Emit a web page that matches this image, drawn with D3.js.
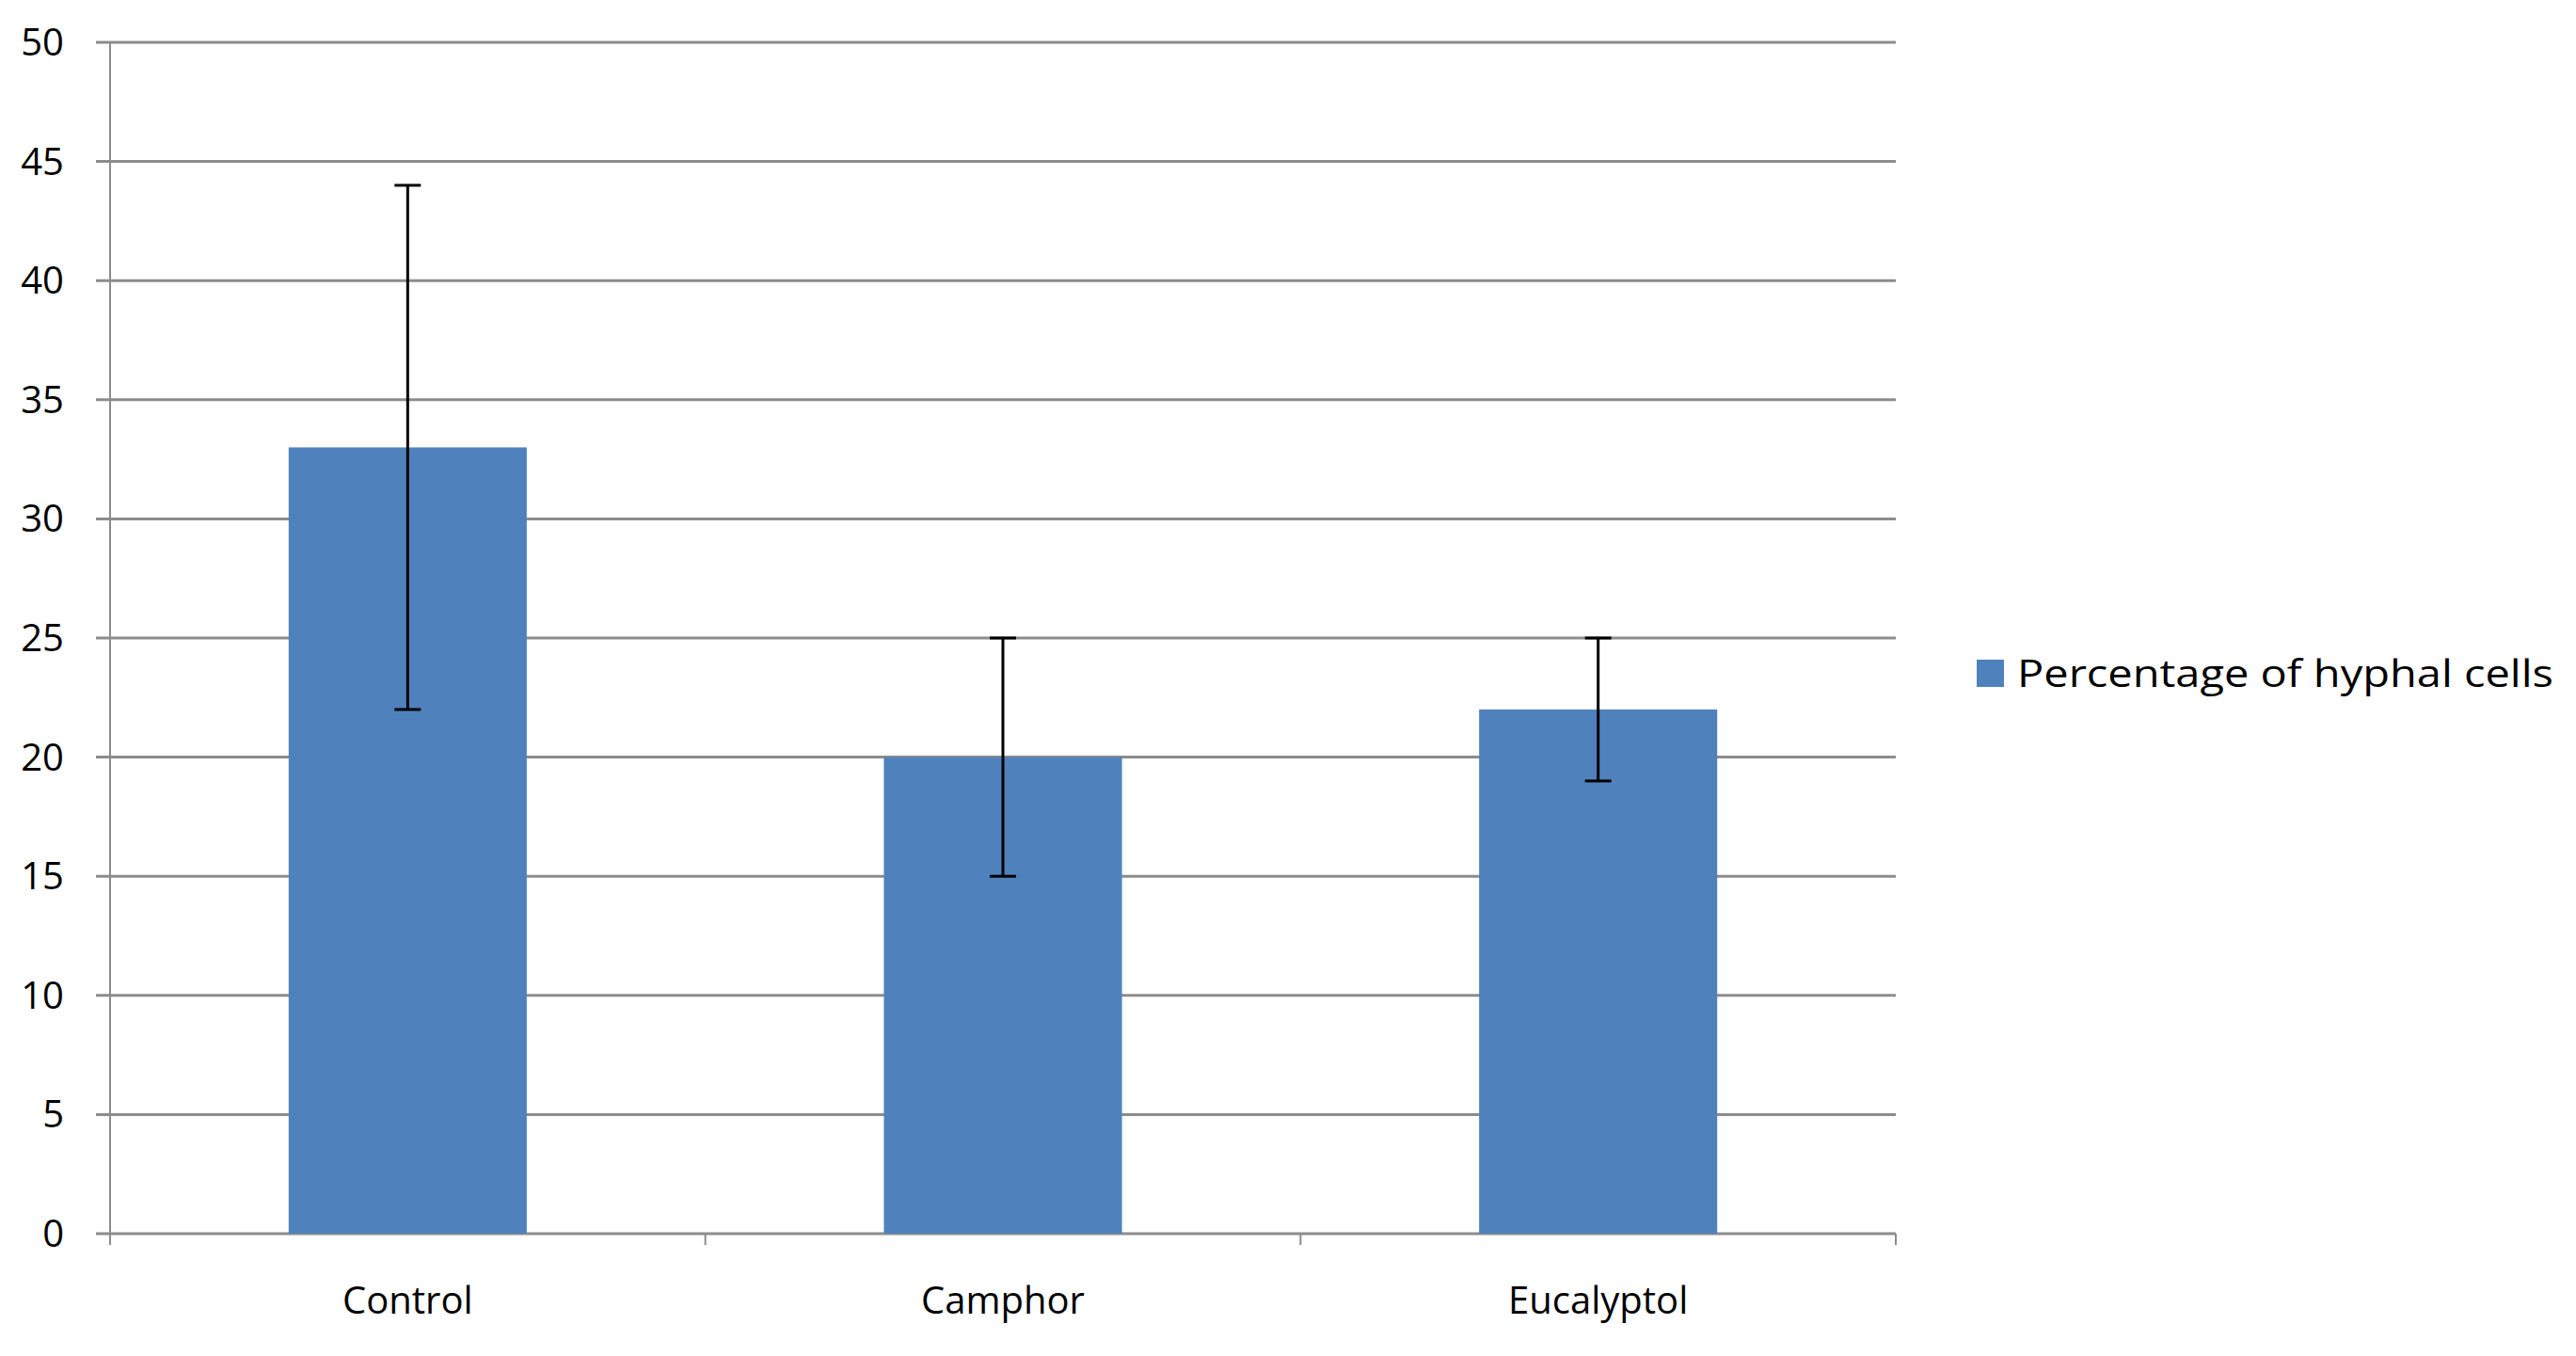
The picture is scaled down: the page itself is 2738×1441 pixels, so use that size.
<!DOCTYPE html>
<html>
<head>
<meta charset="utf-8">
<script src="https://cdn.jsdelivr.net/npm/d3@7"></script>
<style>
  body { margin: 0; background: #fff; }
  text { font-family: "Open Sans", sans-serif; fill: #000; }
</style>
</head>
<body>
<svg width="2738" height="1441"></svg>
<script>
var categories = ['Control', 'Camphor', 'Eucalyptol']
var values = [33, 20, 22]
var errLow = [22, 15, 19]
var errHigh = [44, 25, 25]
var yTicks = [0, 5, 10, 15, 20, 25, 30, 35, 40, 45, 50]
var seriesName = 'Percentage of hyphal cells'

var svg = d3.select('svg')
var mLeft = 117, mRight = 2015, mTop = 45, mBottom = 1311

var x = d3.scaleBand().domain(categories).range([mLeft, mRight]).paddingInner(0.6).paddingOuter(0.3)
var xOuter = d3.scaleBand().domain(categories).range([mLeft, mRight])
var y = d3.scaleLinear().domain([0, 50]).range([mBottom, mTop])

// gridlines
svg.selectAll('.grid').data(yTicks).enter().append('line')
    .attr('x1', mLeft - 15).attr('x2', mRight)
    .attr('y1', function(d){ return y(d) }).attr('y2', function(d){ return y(d) })
    .attr('stroke', '#8c8c8c').attr('stroke-width', 3)

// y axis line
svg.append('line').attr('x1', mLeft).attr('x2', mLeft).attr('y1', mTop).attr('y2', mBottom + 12)
    .attr('stroke', '#8c8c8c').attr('stroke-width', 2)

// x ticks at category boundaries
svg.selectAll('.xt').data(categories.concat(['end'])).enter().append('line')
    .attr('x1', function(d, i){ return mLeft + i * xOuter.step() })
    .attr('x2', function(d, i){ return mLeft + i * xOuter.step() })
    .attr('y1', mBottom).attr('y2', mBottom + 12)
    .attr('stroke', '#8c8c8c').attr('stroke-width', 2)

svg.selectAll('.yl').data(yTicks).enter().append('text')
    .attr('x', 68).attr('y', function(d){ return y(d) })
    .attr('dy', '0.35em').attr('text-anchor', 'end')
    .style('font-size', '40px').text(function(d){ return d })

// bars
svg.selectAll('.bar').data(values).enter().append('rect')
    .attr('x', function(d, i){ return x(categories[i]) })
    .attr('width', x.bandwidth())
    .attr('y', function(d){ return y(d) })
    .attr('height', function(d){ return mBottom - y(d) })
    .attr('fill', '#4f81bd')

// error bars
var cx = function(i){ return x(categories[i]) + x.bandwidth() / 2 }
categories.forEach(function(c, i){
    var g = svg.append('g').attr('stroke', '#000').attr('stroke-width', 3)
    g.append('line').attr('x1', cx(i)).attr('x2', cx(i)).attr('y1', y(errLow[i])).attr('y2', y(errHigh[i]))
    g.append('line').attr('x1', cx(i) - 14).attr('x2', cx(i) + 14).attr('y1', y(errLow[i])).attr('y2', y(errLow[i]))
    g.append('line').attr('x1', cx(i) - 14).attr('x2', cx(i) + 14).attr('y1', y(errHigh[i])).attr('y2', y(errHigh[i]))
})

svg.selectAll('.xl').data(categories).enter().append('text')
    .attr('x', function(d){ return x(d) + x.bandwidth() / 2 }).attr('y', 1396)
    .attr('text-anchor', 'middle').style('font-size', '40px').text(function(d){ return d })

// legend
svg.append('rect').attr('x', 2101).attr('y', 701).attr('width', 29).attr('height', 29).attr('fill', '#4f81bd')
svg.append('text').attr('x', 2144).attr('y', 716).attr('dy', '0.35em')
    .style('font-size', '41px').attr('textLength', 570).attr('lengthAdjust', 'spacingAndGlyphs').text(seriesName)
</script>
</body>
</html>
